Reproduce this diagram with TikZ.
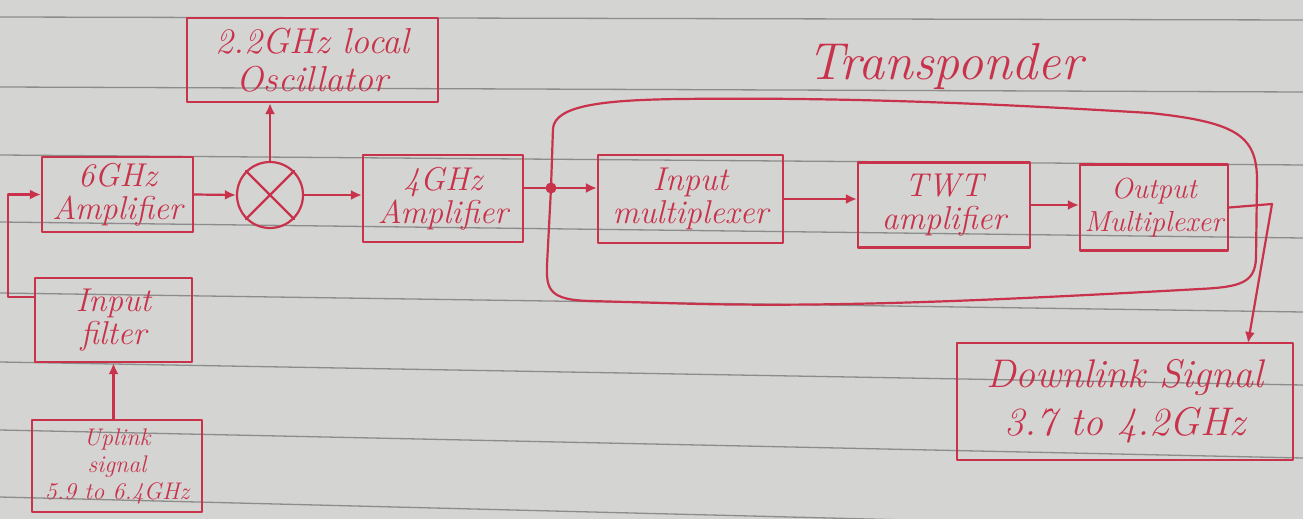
\documentclass[tikz,border=0pt]{standalone}
\usetikzlibrary{arrows.meta}
\definecolor{ink}{RGB}{200,50,75}
\definecolor{paper}{RGB}{212,212,210}
\definecolor{rulegray}{RGB}{140,140,140}
\begin{document}
\begin{tikzpicture}[x=1pt,y=-1pt,
 pen/.style={draw=ink, line width=2.2pt, line cap=round, line join=round},
 blk/.style={pen, rectangle, inner sep=0pt, align=center, text=ink, font=\fontsize{33}{33}\selectfont\itshape},
 arr/.style={pen, -{Latex[length=11pt,width=10pt]}},
 ruled/.style={draw=rulegray, line width=1.3pt}
]
\clip (0,0) rectangle (1303,519);
\fill[paper] (0,0) rectangle (1303,519);
\foreach \a/\b in {17/20,87/92,155/165,222/238,293/312,362/385,430/458,497/530}
  \draw[ruled] (0,\a) -- (1303,\b);

% blocks
\node[blk, minimum width=151pt, minimum height=75pt] (amp6) at (117.5,194.5) {6GHz\\Amplifier};
\node[pen, circle, minimum size=66pt, inner sep=0pt] (mix) at (270,195) {};
\draw[pen] (mix.north west) -- (mix.south east) (mix.north east) -- (mix.south west);
\node[blk, font=\fontsize{36}{38}\selectfont\itshape, minimum width=251pt, minimum height=84pt] (lo) at (312.5,60) {2.2GHz local\\Oscillator};
\node[blk, minimum width=160pt, minimum height=87pt] (amp4) at (443,198.5) {4GHz\\Amplifier};
\node[circle, fill=ink, minimum size=11pt, inner sep=0pt] (dot) at (551,188) {};
\node[blk, minimum width=185pt, minimum height=88pt] (imux) at (690.5,199) {Input\\multiplexer};
\node[blk, minimum width=172pt, minimum height=85pt] (twt) at (944,205) {TWT\\amplifier};
\node[blk, font=\fontsize{29}{33}\selectfont\itshape, minimum width=148pt, minimum height=86pt] (omux) at (1154,207.5) {Output\\Multiplexer};
\node[blk, minimum width=157pt, minimum height=84pt] (filter) at (113.5,320) {Input\\filter};
\node[blk, font=\fontsize{24}{27}\selectfont\itshape, minimum width=170pt, minimum height=92pt] (up) at (117,466) {Uplink\\signal\\5.9 to 6.4GHz};
\node[blk, font=\fontsize{40}{48}\selectfont\itshape, minimum width=336pt, minimum height=117pt] (dl) at (1125,401.5) {Downlink Signal\\3.7 to 4.2GHz};
\node[text=ink, font=\fontsize{52}{56}\selectfont\itshape] (tp) at (945,66) {Transponder};

% connectors
\coordinate (f1) at (8,297);
\draw[arr] ([yshift=23pt]filter.west) -- (f1) |- (amp6.west);
\draw[arr] (filter.south |- up.north) -- (filter.south);
\draw[arr] (amp6.east) -- (mix.west);
\draw[arr] (mix.north) -- (mix.north |- lo.south);
\draw[arr] (mix.east) -- (mix.east -| amp4.west);
\draw[pen] (dot -| amp4.east) -- (dot);
\draw[arr] (dot) -- (dot -| imux.west);
\draw[arr] (imux.east) -- (imux.east -| twt.west);
\draw[arr] (twt.east) -- (twt.east -| omux.west);

% transponder loop
\draw[pen] (dot.center) -- (553,128) .. controls (556,106) and (600,100) .. (680,99)
  .. controls (850,97) and (1000,104) .. (1150,113)
  .. controls (1235,122) and (1257,135) .. (1257,180) -- (1256,258)
  .. controls (1255,283) and (1240,287) .. (1200,289)
  .. controls (1000,300) and (850,307) .. (700,304) -- (590,301)
  .. controls (550,300) and (546,290) .. (547,265) -- (dot.center);

% output
\coordinate (c1) at (1272,204);
\coordinate (c2) at (1248,343);
\draw[pen] (omux.east) -- (c1);
\draw[arr] (c1) -- (c2);
\end{tikzpicture}
\end{document}
